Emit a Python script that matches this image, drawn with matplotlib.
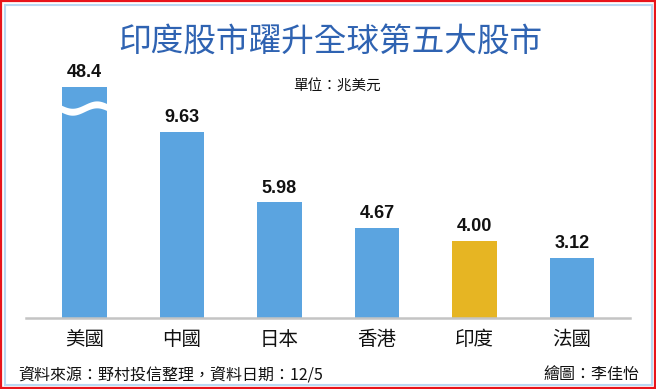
import numpy as np
import matplotlib.pyplot as plt
from matplotlib.patches import Rectangle

plt.rcParams['font.family'] = ['Noto Sans CJK TC', 'DejaVu Sans']

# data
markets = ['美國', '中國', '日本', '香港', '印度', '法國']
values = [48.4, 9.63, 5.98, 4.67, 4.00, 3.12]
labels = ['48.4', '9.63', '5.98', '4.67', '4.00', '3.12']
highlight = '印度'

blue = '#5BA4E0'
gold = '#E6B523'
cap = 11.95  # broken-axis height for the out-of-scale bar

fig = plt.figure(figsize=(6.56, 3.89), dpi=100)
W, H = 656, 389

# frame: red outer, light blue inner
fig.patches.append(Rectangle((1 / W, 1 / H), 1 - 2 / W, 1 - 2 / H, transform=fig.transFigure,
                             fill=False, edgecolor='#E8141B', linewidth=1.6))
fig.patches.append(Rectangle((5 / W, 4.5 / H), 1 - 9.5 / W, 1 - 9.5 / H, transform=fig.transFigure,
                             fill=False, edgecolor='#B9D8F2', linewidth=1.5))

ax = fig.add_axes([26 / W, 71 / H, 604 / W, 278 / H])
ax.set_xlim(-0.6, 5.595)
ax.set_ylim(0, 278 / 19.35)

x = np.arange(len(markets))
heights = [min(v, cap) for v in values]
colors = [gold if m == highlight else blue for m in markets]
bw = 0.46
ax.bar(x, heights, width=bw, color=colors, zorder=2)

# wavy break on the clipped bar
for i, v in enumerate(values):
    if v > cap:
        t = np.linspace(0, 1, 200)
        xs = x[i] - bw / 2 - 0.02 + t * (bw + 0.04)
        c = 10.85 - 0.19 * np.sin(2 * np.pi * t)
        ax.fill_between(xs, c - 0.18, c + 0.18, color='white', zorder=3, linewidth=0)

for xi, h, lab in zip(x, heights, labels):
    ax.annotate(lab, (xi, h), xytext=(0, 4), textcoords='offset points',
                ha='center', va='bottom', fontsize=13, fontweight='bold',
                family=['Liberation Sans', 'DejaVu Sans'], color='#111111')

for s in ['top', 'right', 'left']:
    ax.spines[s].set_visible(False)
ax.spines['bottom'].set_color('#C4C4C4')
ax.spines['bottom'].set_linewidth(1.8)
ax.set_yticks([])
ax.set_xticks(x)
ax.set_xticklabels(markets, fontsize=14, color='#111111')
ax.tick_params(axis='x', length=0, pad=8)

fig.text(0.503, 1 - 42 / H, '印度股市躍升全球第五大股市', ha='center', va='center',
         fontsize=23.5, color='#2F63B2')
fig.text(337 / W, 1 - 87 / H, '單位：兆美元', ha='center', va='center',
         fontsize=10.5, color='#111111')
fig.text(18 / W, 1 - 375 / H, '資料來源：野村投信整理，資料日期：12/5', ha='left', va='center',
         fontsize=11.5, color='#111111')
fig.text(639 / W, 1 - 375 / H, '繪圖：李佳怡', ha='right', va='center',
         fontsize=11.5, color='#111111')

fig.savefig('out.png', dpi=100)
